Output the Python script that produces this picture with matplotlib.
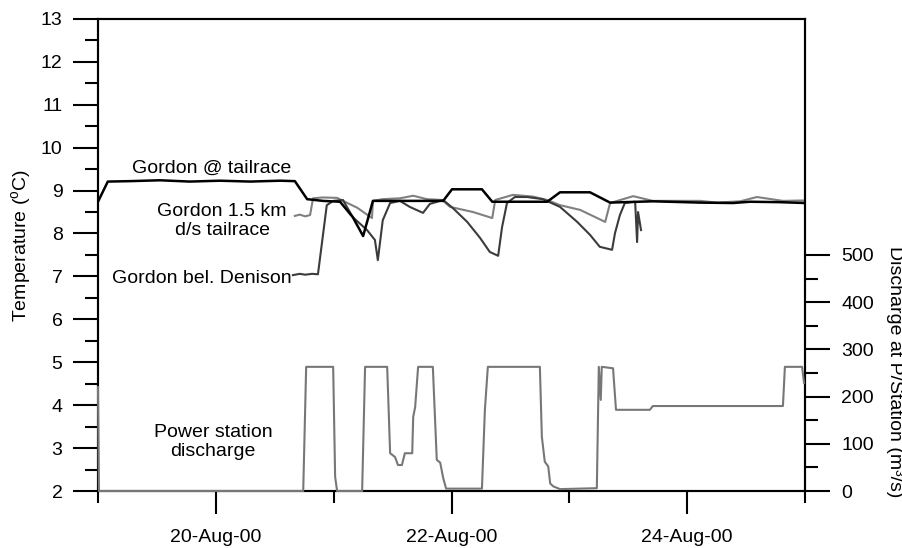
import numpy as np
import pandas as pd
import matplotlib
matplotlib.use("Agg")
from matplotlib import pyplot as plt
import matplotlib.dates as mdates
from matplotlib.ticker import MultipleLocator, FixedLocator

plt.rcParams["font.family"] = ["Liberation Sans", "DejaVu Sans"]
plt.rcParams["mathtext.fontset"] = "custom"
plt.rcParams["mathtext.rm"] = "Liberation Sans"

START = pd.Timestamp("2000-08-19")
END = pd.Timestamp("2000-08-25")

# hours after 19-Aug-00 00:00, temperature in deg C
tailrace_h = [0.0, 2.0, 6.5, 12.6, 18.7, 24.8, 31.0, 37.1, 40.1, 42.6, 45.8, 49.3, 51.9,
              54.0, 56.0, 61.5, 70.3, 72.1, 78.2, 80.3, 91.5, 94.1, 100.2, 104.3, 113.0,
              122.6, 129.3, 132.8, 138.9, 144.0]
tailrace_t = [8.74, 9.21, 9.22, 9.24, 9.21, 9.23, 9.21, 9.23, 9.22, 8.80, 8.76, 8.74, 8.38,
              7.94, 8.76, 8.76, 8.76, 9.03, 9.03, 8.74, 8.74, 8.96, 8.96, 8.72, 8.75,
              8.72, 8.71, 8.74, 8.73, 8.71]

ds15_h = [40.1, 41.1, 42.2, 43.2, 43.8, 45.8, 48.7, 49.9, 52.8, 55.8, 56.0, 58.0, 61.5,
          64.2, 67.0, 70.1, 71.7, 76.4, 80.3, 80.9, 84.5, 88.6, 91.5, 94.1, 98.2, 103.3,
          104.3, 109.0, 113.0, 122.6, 126.1, 130.8, 134.2, 139.5, 144.0]
ds15_t = [8.41, 8.44, 8.40, 8.43, 8.82, 8.84, 8.83, 8.76, 8.60, 8.36, 8.76, 8.80, 8.82,
          8.88, 8.80, 8.78, 8.62, 8.50, 8.36, 8.78, 8.90, 8.86, 8.78, 8.66, 8.55, 8.27,
          8.71, 8.87, 8.76, 8.76, 8.72, 8.75, 8.85, 8.76, 8.77]

denison_h = [39.7, 41.1, 42.2, 43.6, 44.8, 46.6, 47.9, 49.9, 51.9, 54.8, 56.4, 57.0, 58.0,
             59.5, 61.5, 63.5, 66.2, 67.6, 70.3, 72.3, 75.2, 77.8, 79.8, 81.5, 82.3, 83.3,
             84.9, 87.4, 90.6, 94.1, 97.6, 100.2, 102.2, 104.7, 105.3, 106.3, 107.3, 109.4,
             109.8, 110.0, 110.6]
denison_t = [7.03, 7.06, 7.04, 7.06, 7.05, 8.66, 8.76, 8.78, 8.38, 8.08, 7.85, 7.38, 8.31,
             8.71, 8.76, 8.62, 8.48, 8.69, 8.78, 8.59, 8.27, 7.90, 7.57, 7.48, 8.15, 8.71,
             8.85, 8.85, 8.80, 8.62, 8.27, 7.97, 7.69, 7.62, 8.01, 8.43, 8.71, 8.74,
             7.80, 8.50, 8.08]

# power station discharge, m3/s
flow_h = [0.0, 0.2, 41.8, 42.4, 47.9, 48.3, 48.7, 53.8, 54.4, 58.9, 59.5, 60.5, 61.1, 61.9,
          62.5, 64.0, 64.2, 64.6, 65.2, 68.2, 69.0, 69.7, 70.3, 70.9, 77.8, 78.2, 78.8,
          79.4, 90.0, 90.4, 91.0, 91.7, 92.1, 92.7, 94.1, 101.6, 102.0, 102.4, 102.6,
          104.9, 105.5, 109.0, 112.4, 113.0, 139.5, 139.9, 143.4, 143.8]
flow_q = [220, 0, 0, 263, 263, 30, 0, 0, 263, 263, 80, 72, 55, 55,
          80, 80, 157, 178, 263, 263, 66, 60, 28, 5, 5, 5, 172,
          263, 263, 115, 62, 52, 16, 10, 4, 6, 263, 193, 263,
          260, 172, 172, 172, 180, 180, 263, 263, 229]


def to_time(hours):
    return START + pd.to_timedelta(hours, unit="h")


fig = plt.figure(figsize=(9.03, 5.48), dpi=100)
ax = fig.add_axes([0.1085, 0.104, 0.783, 0.8615])
ax2 = ax.twinx()

ax.plot(to_time(tailrace_h), tailrace_t, color="black", lw=1.8, zorder=4)
ax.plot(to_time(ds15_h), ds15_t, color="#808080", lw=1.5, zorder=3)
ax.plot(to_time(denison_h), denison_t, color="#3c3c3c", lw=1.5, zorder=3)
ax2.plot(to_time(flow_h), flow_q, color="#777777", lw=1.5, clip_on=False, zorder=5)

ax.set_xlim(START, END)
ax.set_ylim(2, 13)
ax2.set_ylim(0, 1000)

fs = 14
ax.xaxis.set_major_locator(mdates.DayLocator(bymonthday=[20, 22, 24]))
ax.xaxis.set_minor_locator(mdates.DayLocator(bymonthday=[19, 21, 23, 25]))
ax.xaxis.set_major_formatter(mdates.DateFormatter("%d-%b-%y"))
ax.yaxis.set_major_locator(MultipleLocator(1))
ax.yaxis.set_minor_locator(MultipleLocator(0.5))
ax2.yaxis.set_major_locator(FixedLocator([0, 100, 200, 300, 400, 500]))
ax2.yaxis.set_minor_locator(FixedLocator([50, 150, 250, 350, 450]))

ax.tick_params(axis="x", which="major", direction="out", length=16.5, width=1.5,
               pad=10.5, labelsize=fs)
ax.tick_params(axis="x", which="minor", direction="out", length=8.6, width=1.5)
ax.tick_params(axis="y", which="major", direction="out", length=18, width=1.5,
               pad=7.5, labelsize=fs)
ax.tick_params(axis="y", which="minor", direction="out", length=9.4, width=1.5)
ax2.tick_params(axis="y", which="major", direction="out", length=18, width=1.5,
                pad=8, labelsize=fs)
ax2.tick_params(axis="y", which="minor", direction="out", length=9.4, width=1.5)

for a in (ax, ax2):
    for sp in a.spines.values():
        sp.set_linewidth(1.5)

fig.text(22 / 903, 1 - 245 / 548, "Temperature ($^{\\rm o}$C)", rotation=90,
         ha="center", va="center", fontsize=fs)
fig.text(895 / 903, 1 - 372 / 548, "Discharge at P/Station (m\u00b3/s)", rotation=270,
         ha="center", va="center", fontsize=fs)

ax.text(to_time(23.2), 9.53, "Gordon @ tailrace", ha="center", va="center", fontsize=fs)
ax.text(to_time(25.3), 8.29, "Gordon 1.5 km\nd/s tailrace", ha="center", va="center",
        fontsize=fs, linespacing=1.12)
ax.text(to_time(39.4), 6.96, "Gordon bel. Denison", ha="right", va="center", fontsize=fs)
ax.text(to_time(23.4), 3.14, "Power station\ndischarge", ha="center", va="center",
        fontsize=fs, linespacing=1.12)

fig.savefig("out.png", dpi=100)
